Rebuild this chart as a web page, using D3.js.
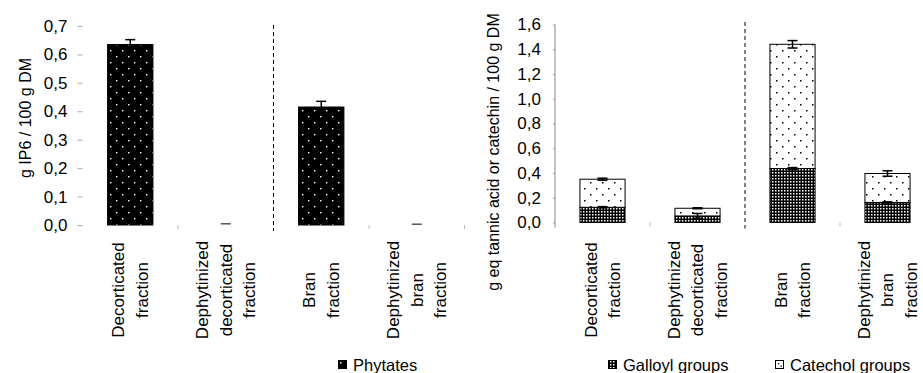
<!DOCTYPE html>
<html><head><meta charset="utf-8">
<script src="https://cdn.jsdelivr.net/npm/d3@7/dist/d3.min.js"></script>
<style>
body{margin:0;background:#fff;}
text{font-family:"Liberation Sans",Arial,sans-serif;fill:#000;}
</style></head>
<body><svg id="c" width="923" height="373"></svg>
<script>
// ---------- DATA ----------
const categories = ["Decorticated\nfraction","Dephytinized\ndecorticated\nfraction","Bran\nfraction","Dephytinized\nbran\nfraction"];
const phytates = [0.635, 0.004, 0.415, 0.003];
const phytatesErr = [0.017, 0, 0.02, 0];
const galloyl = [0.123, 0.053, 0.436, 0.162];
const galloylErr = [0.005, 0.02, 0.008, 0.005];
const catechol = [0.227, 0.062, 1.004, 0.234];
const totalErr = [0.008, 0.004, 0.03, 0.022];
const leftTicks = [0,0.1,0.2,0.3,0.4,0.5,0.6,0.7];
const rightTicks = [0,0.2,0.4,0.6,0.8,1.0,1.2,1.4,1.6];
const leftTitle = "g IP6 / 100 g DM";
const rightTitle = "g eq tannic acid or catechin / 100 g DM";
const legendLeft = ["Phytates"];
const legendRight = ["Galloyl groups","Catechol groups"];

const svg = d3.select("#c");
const FS = 16, FT = 17, FC = 17, FL = 16.5;
const fmt = d => d.toFixed(1).replace(".", ",");

// patterns
const defs = svg.append("defs");
const pPhy = defs.append("pattern").attr("id","phy").attr("patternUnits","userSpaceOnUse").attr("width",12).attr("height",12);
pPhy.append("rect").attr("width",12).attr("height",12).attr("fill","#000");
[[2,2],[8,8]].forEach(([x,y])=>pPhy.append("rect").attr("x",x).attr("y",y).attr("width",1.4).attr("height",1.4).attr("fill","#fff"));
const pCat = defs.append("pattern").attr("id","cat").attr("patternUnits","userSpaceOnUse").attr("width",12).attr("height",12);
pCat.append("rect").attr("width",12).attr("height",12).attr("fill","#fff");
[[2,2],[8,8]].forEach(([x,y])=>pCat.append("rect").attr("x",x).attr("y",y).attr("width",1.5).attr("height",1.5).attr("fill","#000"));
const pGal = defs.append("pattern").attr("id","gal").attr("patternUnits","userSpaceOnUse").attr("width",3).attr("height",3);
pGal.append("rect").attr("width",3).attr("height",3).attr("fill","#000");
pGal.append("rect").attr("x",1).attr("y",1).attr("width",1.5).attr("height",1.5).attr("fill","#fff");

function drawPanel(cfg){
  const g = svg.append("g");
  const y = d3.scaleLinear().domain([0, cfg.max]).range([cfg.y0, cfg.y1]);
  const x = d3.scaleBand().domain(categories).range([cfg.x0, cfg.x1]).paddingInner(0).paddingOuter(0);
  const bw = x.bandwidth()*0.475;
  const bx = c => x(c) + (x.bandwidth()-bw)/2;

  const ax = g.append("g").attr("transform",`translate(${cfg.x0},0)`)
    .call(d3.axisLeft(y).tickValues(cfg.ticks).tickFormat(fmt).tickSize(cfg.tickSize).tickPadding(cfg.tickPad));
  ax.select(".domain").remove();
  ax.selectAll(".tick line").attr("stroke","#aaa");
  ax.selectAll(".tick text").attr("font-size",FT).attr("font-family","Liberation Sans, Arial, sans-serif").attr("fill","#000");
  if(cfg.axisColor){
    g.append("line").attr("x1",cfg.x0).attr("x2",cfg.x0).attr("y1",cfg.y1).attr("y2",cfg.y0+5)
      .attr("stroke",cfg.axisColor).attr("stroke-width",1);
  }

  const bounds = categories.slice(1).map(c=>x(c)).concat([cfg.x1]);
  g.selectAll(".xt").data(bounds.filter((b,i)=>i!==1)).join("line")
    .attr("x1",d=>d).attr("x2",d=>d).attr("y1",y(0)).attr("y2",y(0)+4).attr("stroke","#bbb");
  g.append("line").attr("x1",x(categories[2])).attr("x2",x(categories[2]))
    .attr("y1",cfg.dashTop).attr("y2",y(0)+6).attr("stroke","#000").attr("stroke-dasharray","4,3");

  cfg.draw(g, x, y, bx, bw);

  const ls = 23.5;
  categories.forEach(c=>{
    const lines = c.split("\n");
    const cx = x(c) + x.bandwidth()/2;
    lines.forEach((t,i)=>{
      const lx = cx + (i - (lines.length-1)/2)*ls;
      g.append("text").attr("transform",`translate(${lx},${cfg.labelY}) rotate(-90)`)
        .attr("text-anchor","middle").attr("dy","0.35em").attr("font-size",FC).text(t);
    });
  });

  g.append("text").attr("transform",`translate(${cfg.titleX},${cfg.titleY}) rotate(-90)`)
    .attr("text-anchor","middle").attr("dy","0.35em").attr("font-size",FS).text(cfg.title);
}

function errBar(g, cx, yTop, yBot, color){
  g.append("line").attr("x1",cx).attr("x2",cx).attr("y1",yTop).attr("y2",yBot).attr("stroke",color).attr("stroke-width",1.5);
  g.append("line").attr("x1",cx-5).attr("x2",cx+5).attr("y1",yTop).attr("y2",yTop).attr("stroke",color).attr("stroke-width",1.5);
  g.append("line").attr("x1",cx-5).attr("x2",cx+5).attr("y1",yBot).attr("y2",yBot).attr("stroke",color).attr("stroke-width",1.5);
}

drawPanel({
  max:0.7, y0:225, y1:26, x0:82.5, x1:464.5, ticks:leftTicks, tickSize:5, tickPad:10, axisColor:null,
  dashTop:25, labelY:290, titleX:25, titleY:118, title:leftTitle,
  draw:(g,x,y,bx,bw)=>{
    categories.forEach((c,i)=>{
      const v = phytates[i];
      if(v > 0.01){
        g.append("rect").attr("x",bx(c)).attr("y",y(v)).attr("width",bw).attr("height",y(0)-y(v))
          .attr("fill","url(#phy)").attr("stroke","#000").attr("stroke-width",1);
        errBar(g, bx(c)+bw/2, y(v+phytatesErr[i]), y(v-phytatesErr[i]), "#000");
      } else {
        g.append("line").attr("x1",bx(c)+bw/2-5).attr("x2",bx(c)+bw/2+5).attr("y1",y(v)).attr("y2",y(v)).attr("stroke","#000");
      }
    });
  }
});

drawPanel({
  max:1.6, y0:222.5, y1:24.5, x0:555, x1:935, ticks:rightTicks, tickSize:2, tickPad:12, axisColor:"#888",
  dashTop:22, labelY:290, titleX:493, titleY:152, title:rightTitle,
  draw:(g,x,y,bx,bw)=>{
    categories.forEach((c,i)=>{
      const gv = galloyl[i], tv = galloyl[i]+catechol[i];
      g.append("rect").attr("x",bx(c)).attr("y",y(gv)).attr("width",bw).attr("height",y(0)-y(gv))
        .attr("fill","url(#gal)").attr("stroke","#000").attr("stroke-width",1);
      g.append("rect").attr("x",bx(c)).attr("y",y(tv)).attr("width",bw).attr("height",y(gv)-y(tv))
        .attr("fill","url(#cat)").attr("stroke","#000").attr("stroke-width",1);
      errBar(g, bx(c)+bw/2, y(gv+galloylErr[i]), y(gv-galloylErr[i]), "#000");
      errBar(g, bx(c)+bw/2, y(tv+totalErr[i]), y(tv-totalErr[i]), "#000");
    });
  }
});

// legends
const lg = svg.append("g");
lg.append("rect").attr("x",338).attr("y",360).attr("width",9).attr("height",9).attr("fill","#000");
lg.append("rect").attr("x",340).attr("y",362).attr("width",1.5).attr("height",1.5).attr("fill","#fff");
lg.append("text").attr("x",353).attr("y",371).attr("font-size",FL).text(legendLeft[0]);
lg.append("rect").attr("x",608.5).attr("y",360.5).attr("width",8).attr("height",8).attr("fill","url(#gal)").attr("stroke","#000");
lg.append("text").attr("x",623).attr("y",371).attr("font-size",FL).text(legendRight[0]);
lg.append("rect").attr("x",775.5).attr("y",360.5).attr("width",8).attr("height",8).attr("fill","#fff").attr("stroke","#000");
lg.append("rect").attr("x",778).attr("y",363).attr("width",1.3).attr("height",1.3).attr("fill","#000");
lg.append("rect").attr("x",780.5).attr("y",365.5).attr("width",1.3).attr("height",1.3).attr("fill","#000");
lg.append("text").attr("x",790).attr("y",371).attr("font-size",FL).text(legendRight[1]);
</script></body></html>
